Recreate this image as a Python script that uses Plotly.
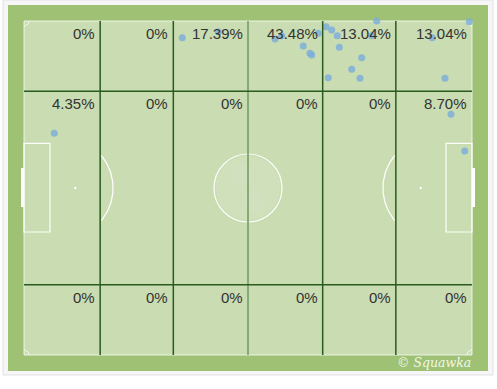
import numpy as np
import plotly.graph_objects as go

# ---- data ----
zone_x_edges = [0, 17, 33.33, 50, 66.67, 83, 100]
zone_y_edges = [0, 21, 79, 100]
zone_labels = [
    ["0%", "0%", "17.39%", "43.48%", "13.04%", "13.04%"],
    ["4.35%", "0%", "0%", "0%", "0%", "8.70%"],
    ["0%", "0%", "0%", "0%", "0%", "0%"],
]
event_x = [35.33, 43.37, 56.03, 57.52, 62.34, 63.84, 64.22, 65.69, 67.41, 68.68,
           69.93, 70.38, 75.38, 73.15, 67.92, 75.0, 78.73, 77.61, 91.14, 99.40,
           93.97, 95.31, 98.37, 6.76]
event_y = [5.0, 3.2, 5.39, 4.40, 7.49, 9.67, 10.18, 3.68, 1.71, 2.69,
           4.40, 7.87, 10.99, 14.46, 16.98, 17.16, 0.0, 4.40, 5.0, 0.21,
           17.16, 27.93, 38.92, 33.62]

W, H = 497, 389
PX0, PX1, PY0, PY1 = 24, 472, 21, 355
SX = (PX1 - PX0) / 100.0
SY = (PY1 - PY0) / 100.0
xr = [-PX0 / SX, (W - PX0) / SX]
yr = [(H - PY0) / SY, -PY0 / SY]

def px(v):
    return v / W

def py(v):
    return 1 - v / H

shapes = []
# page box
shapes.append(dict(type="rect", xref="paper", yref="paper", x0=px(3), x1=px(493), y0=py(0), y1=py(375),
                   fillcolor="#f6f6f6", line=dict(color="#e2e2e2", width=1), layer="below"))
# green frame
shapes.append(dict(type="rect", xref="paper", yref="paper", x0=px(8), x1=px(488), y0=py(5), y1=py(371),
                   fillcolor="#9ec174", line=dict(width=0), layer="below"))
# pitch
shapes.append(dict(type="rect", x0=0, x1=100, y0=0, y1=100, fillcolor="#c9dcb2",
                   line=dict(color="rgba(255,255,255,0.75)", width=1), layer="below"))
wl = dict(color="rgba(255,255,255,0.95)", width=1.2)
# center logo + circle
rcx, rcy = 34 / SX, 34 / SY
shapes.append(dict(type="circle", x0=50 - rcx * 0.95, x1=50 + rcx * 0.95, y0=50 - rcy * 0.95, y1=50 + rcy * 0.95,
                   fillcolor="rgba(255,255,255,0.12)", line=dict(width=0)))
shapes.append(dict(type="circle", x0=50 - rcx * 0.45, x1=50 + rcx * 0.15, y0=50 - rcy * 0.7, y1=50 - rcy * 0.05,
                   fillcolor="rgba(255,255,255,0.06)", line=dict(width=0)))
shapes.append(dict(type="circle", x0=50 - rcx * 0.15, x1=50 + rcx * 0.45, y0=50 + rcy * 0.05, y1=50 + rcy * 0.7,
                   fillcolor="rgba(255,255,255,0.06)", line=dict(width=0)))
shapes.append(dict(type="circle", x0=50 - rcx, x1=50 + rcx, y0=50 - rcy, y1=50 + rcy,
                   fillcolor="rgba(0,0,0,0)", line=wl))
# boxes
bw = 26 / SX
by0, by1 = (143.3 - PY0) / SY, (232 - PY0) / SY
shapes.append(dict(type="rect", x0=0, x1=bw, y0=by0, y1=by1, line=wl))
shapes.append(dict(type="rect", x0=100 - bw, x1=100, y0=by0, y1=by1, line=wl))
# goals
gw = 3 / SX
gy0, gy1 = (168 - PY0) / SY, (207 - PY0) / SY
shapes.append(dict(type="rect", x0=-gw, x1=0, y0=gy0, y1=gy1, fillcolor="white", line=dict(width=0)))
shapes.append(dict(type="rect", x0=100, x1=100 + gw, y0=gy0, y1=gy1, fillcolor="white", line=dict(width=0)))
# penalty spots
for cx in ((75.3 - PX0) / SX, 100 - (75.3 - PX0) / SX):
    shapes.append(dict(type="circle", x0=cx - 1.2 / SX, x1=cx + 1.2 / SX, y0=50 - 1.2 / SY, y1=50 + 1.2 / SY,
                       fillcolor="white", line=dict(width=0)))

fig = go.Figure()

# penalty arcs
t = np.linspace(-np.pi / 2, np.pi / 2, 80)
acx = (62 - PX0) / SX
ar = 51
ax = acx + ar / SX * np.cos(t)
ay = 50 + ar / SY * np.sin(t)
m = ax >= zone_x_edges[1]
fig.add_trace(go.Scatter(x=ax[m], y=ay[m], mode="lines", line=dict(color="white", width=1.2),
                         hoverinfo="skip", showlegend=False))
fig.add_trace(go.Scatter(x=100 - ax[m], y=ay[m], mode="lines", line=dict(color="white", width=1.2),
                         hoverinfo="skip", showlegend=False))
# corner arcs
tc = np.linspace(0, np.pi / 2, 12)
cr = 5
for (cx, cy, sx, sy) in [(0, 0, 1, 1), (100, 0, -1, 1), (0, 100, 1, -1), (100, 100, -1, -1)]:
    fig.add_trace(go.Scatter(x=cx + sx * cr / SX * np.cos(tc), y=cy + sy * cr / SY * np.sin(tc), mode="lines",
                             line=dict(color="rgba(255,255,255,0.8)", width=1), hoverinfo="skip", showlegend=False))

# zone grid lines
for i, xv in enumerate(zone_x_edges[1:-1]):
    col = "#6e9a60" if abs(xv - 50) < 1e-6 else "#2a5a1e"
    shapes.append(dict(type="line", x0=xv, x1=xv, y0=0, y1=100, line=dict(color=col, width=1.5)))
for yv in zone_y_edges[1:-1]:
    shapes.append(dict(type="line", x0=0, x1=100, y0=yv, y1=yv, line=dict(color="#2a5a1e", width=1.5)))

# events
fig.add_trace(go.Scatter(x=event_x, y=event_y, mode="markers",
                         marker=dict(size=7, color="rgba(122,172,220,0.8)", line=dict(width=0)),
                         hoverinfo="skip", showlegend=False))

annotations = []
for r in range(3):
    for c in range(6):
        annotations.append(dict(x=zone_x_edges[c + 1], y=zone_y_edges[r], text=zone_labels[r][c],
                                xanchor="right", yanchor="top", xshift=-3, yshift=-2, showarrow=False,
                                font=dict(family="Liberation Sans, Arial", size=15, color="#333333")))
annotations.append(dict(xref="paper", yref="paper", x=px(473), y=py(362), xanchor="right", yanchor="middle",
                        text="<i>© Squawka</i>", showarrow=False,
                        font=dict(family="DejaVu Serif", size=12.5, color="#f1f6ea")))

fig.update_layout(
    width=W, height=H, margin=dict(l=0, r=0, t=0, b=0),
    paper_bgcolor="white", plot_bgcolor="rgba(0,0,0,0)",
    xaxis=dict(range=xr, visible=False, fixedrange=True),
    yaxis=dict(range=yr, visible=False, fixedrange=True),
    shapes=shapes, annotations=annotations,
)
fig.write_html("out.html", config=dict(displayModeBar=False),
               post_script="document.body.style.margin='0px';document.body.style.overflow='hidden';")
